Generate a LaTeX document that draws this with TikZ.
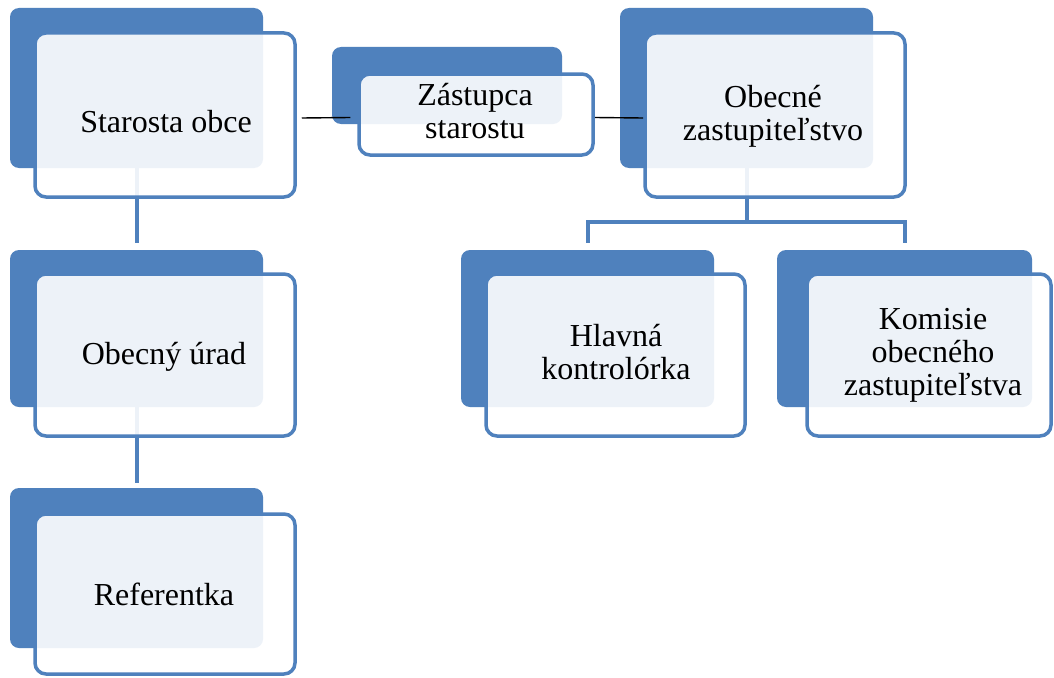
\documentclass[tikz,border=0pt]{standalone}
\usepackage{fontspec}
\setmainfont{Liberation Serif}
\pgfdeclarelayer{bgl}
\pgfdeclarelayer{connl}
\pgfdeclarelayer{backl}
\pgfdeclarelayer{linel}
\pgfsetlayers{bgl,connl,backl,linel,main}
\definecolor{accent}{HTML}{4F81BD}
\tikzset{
  backbox/.style={fill=accent, draw=none, rounded corners=9pt, inner sep=0pt},
  frontbox/.style={fill=white, fill opacity=0.9, draw=accent, line width=3.5pt, rounded corners=11pt, inner sep=0pt},
  txt/.style={align=center, inner sep=0pt, font=\fontsize{32}{33}\selectfont},
  conn/.style={draw=accent, line width=4pt},
  blk/.style={draw=black, line width=1.4pt},
}
\begin{document}
\begin{tikzpicture}[x=1pt,y=-1pt]
\begin{pgfonlayer}{bgl}
\fill[white] (0,0) rectangle (1054,677);
\end{pgfonlayer}
\useasboundingbox (0,0) rectangle (1054,677);

% back boxes
\begin{pgfonlayer}{backl}
\node[backbox, minimum width=253pt, minimum height=160pt] (b1) at (136.5,88) {};
\node[backbox, minimum width=253pt, minimum height=157pt] (b2) at (136.5,328.5) {};
\node[backbox, minimum width=253pt, minimum height=160pt] (b3) at (136.5,568) {};
\node[backbox, minimum width=230pt, minimum height=77pt] (bz) at (447,85.5) {};
\node[backbox, minimum width=253pt, minimum height=160pt] (bo) at (746.5,88) {};
\node[backbox, minimum width=253pt, minimum height=157pt] (bh) at (587.5,328.5) {};
\node[backbox, minimum width=255pt, minimum height=157pt] (bk) at (904.5,328.5) {};
\end{pgfonlayer}

% front boxes
\node[frontbox, minimum width=260pt, minimum height=164pt] (f1) at (165,115) {};
\node[frontbox, minimum width=260pt, minimum height=162pt] (f2) at (165,355) {};
\node[frontbox, minimum width=260pt, minimum height=160pt] (f3) at (165,594) {};
\node[frontbox, minimum width=234pt, minimum height=81pt] (fz) at (476,114.5) {};
\node[frontbox, minimum width=260pt, minimum height=164pt] (fo) at (775,115) {};
\node[frontbox, minimum width=259pt, minimum height=162pt] (fh) at (615.5,355) {};
\node[frontbox, minimum width=244pt, minimum height=162pt] (fk) at (929,355) {};

% texts
\node[txt] (t1) at (166,122) {Starosta obce};
\node[txt] (t2) at (164,356.5) {Obecný úrad};
\node[txt] (t3) at (164,594) {Referentka};
\node[txt] (tz) at (475,111.5) {Zástupca\\starostu};
\node[txt] (to) at (773,116) {Obecné\\zastupiteľstvo};
\node[txt] (th) at (616,352.5) {Hlavná\\kontrolórka};
\node[txt] (tk) at (933,355.5) {Komisie\\obecného\\zastupiteľstva};

% connectors
\begin{pgfonlayer}{connl}
\draw[conn] (b1.south) -- ([yshift=7pt]b2.north);
\draw[conn] (b2.south) -- ([yshift=5pt]b3.north);
\draw[conn] (bo.south) -- ++(0,54) coordinate (j);
\draw[conn] ([yshift=7pt]bh.north) |- (j) -| ([yshift=7pt]bk.north);
\end{pgfonlayer}

\begin{pgfonlayer}{linel}
\draw[blk] ([xshift=5pt,yshift=-3pt]f1.east) -- ([xshift=-7pt,yshift=-3pt]fz.west);
\draw[blk] ([yshift=-3pt]fz.east) -- ([yshift=-3pt]fo.west);
\end{pgfonlayer}
\end{tikzpicture}
\end{document}
